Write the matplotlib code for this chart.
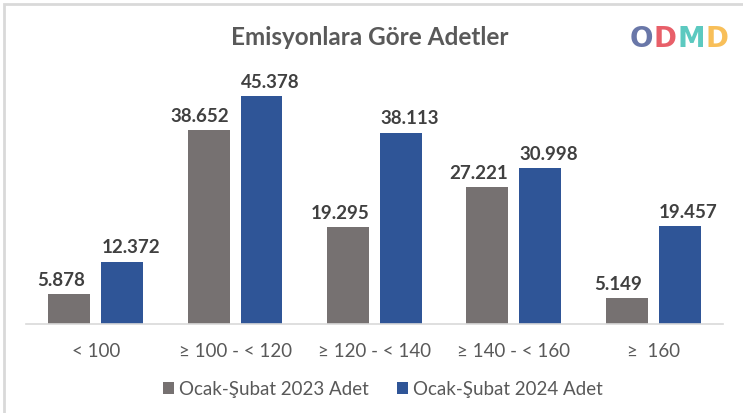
import matplotlib.pyplot as plt
import numpy as np
from matplotlib.patches import Rectangle

# Veriler
kategoriler = ['< 100', '≥ 100 - < 120', '≥ 120 - < 140', '≥ 140 - < 160', '≥  160']
adet_2023 = [5.878, 38.652, 19.295, 27.221, 5.149]
adet_2024 = [12.372, 45.378, 38.113, 30.998, 19.457]
etiket_2023 = ['5.878', '38.652', '19.295', '27.221', '5.149']
etiket_2024 = ['12.372', '45.378', '38.113', '30.998', '19.457']
seri_adlari = ['Ocak-Şubat 2023 Adet', 'Ocak-Şubat 2024 Adet']

gri = '#767171'
mavi = '#2F5597'
yazi = '#595959'

plt.rcParams['font.family'] = ['Lato', 'DejaVu Sans']

fig = plt.figure(figsize=(7.43, 4.14), dpi=100)
ax = fig.add_axes([0.035, 0.215, 0.938, 0.606])

# Çerçeve
fig.patches.append(Rectangle((0.005, -0.05), 1.2, 1.038, transform=fig.transFigure,
                             fill=False, edgecolor='#d9d9d9', linewidth=2))

x = np.arange(len(kategoriler))
g = 0.19
w = 0.30
ax.bar(x - g, adet_2023, w, color=gri, label=seri_adlari[0])
ax.bar(x + g, adet_2024, w, color=mavi, label=seri_adlari[1])

for xi, v, t in zip(x, adet_2023, etiket_2023):
    ax.text(xi - g - 0.06, v + 1.3, t, ha='center', va='bottom', fontsize=13.5,
            fontweight='bold', color='#404040')
for xi, v, t in zip(x, adet_2024, etiket_2024):
    ax.text(xi + g + 0.06, v + 1.3, t, ha='center', va='bottom', fontsize=13.5,
            fontweight='bold', color='#404040')

ax.set_xlim(-0.5, len(kategoriler) - 0.5)
ax.set_ylim(0, 50)
ax.set_xticks(x)
ax.set_xticklabels(kategoriler, fontsize=13.5, color=yazi)
ax.tick_params(axis='x', length=0, pad=13)
ax.set_yticks([])
for s in ['top', 'right', 'left']:
    ax.spines[s].set_visible(False)
ax.spines['bottom'].set_color('#d9d9d9')
ax.spines['bottom'].set_linewidth(1.2)

fig.text(0.498, 0.91, 'Emisyonlara Göre Adetler', ha='center', va='center',
         fontsize=17.5, fontweight='bold', color=yazi)

fig.legend(loc='center', bbox_to_anchor=(0.515, 0.058), ncol=2, frameon=False,
           fontsize=13.5, labelcolor=yazi, handlelength=0.6, handleheight=0.6,
           handletextpad=0.25, columnspacing=1.5)

# Logo: harfler yan yana, kutuları çakışmadan
logo_harfler = ['O', 'D', 'M', 'D']
logo_renkler = ['#4f5f99', '#e4434f', '#3fc0b5', '#f7b43c']
renderer = fig.canvas.get_renderer()
lx = 0.848
for h, r in zip(logo_harfler, logo_renkler):
    t = fig.text(lx, 0.905, h, ha='left', va='center', fontsize=20, fontweight='bold',
                 family='DejaVu Sans', color=r, alpha=0.85)
    bb = t.get_window_extent(renderer).transformed(fig.transFigure.inverted())
    lx = bb.x1 + 0.0005

fig.savefig('out.png', dpi=100)
